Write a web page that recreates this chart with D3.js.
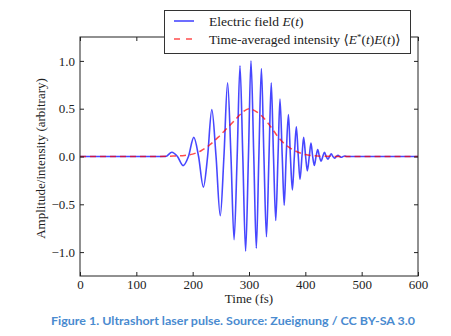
<!DOCTYPE html>
<html>
<head>
<meta charset="utf-8">
<script src="https://cdn.jsdelivr.net/npm/d3@7"></script>
<style>
  html, body { margin: 0; padding: 0; background: #fff; }
  svg { display: block; }
  text { font-family: "Liberation Serif", "DejaVu Serif", serif; }
  text.caption { font-family: Lato, "Open Sans", sans-serif; font-weight: bold; }
</style>
</head>
<body>
<svg id="chart" width="451" height="336"></svg>
<script>
// ---- data ----
// Electric field E(t): extrema and zero crossings (time in fs)
const fieldTimes = [0, 140, 152, 163, 173, 183, 192.5, 202, 210.5, 219, 226.5, 234, 241.5, 249, 255.5, 262, 268, 273.5, 279, 284, 289, 294, 299, 303.5, 308.5, 313, 317.5, 322, 326.5, 331, 335.5, 339.5, 343.5, 347.5, 351.5, 355, 359, 362.5, 366, 370, 373.5, 377, 380.5, 384, 387.5, 390.5, 394, 397, 400.5, 403.5, 407, 410, 413, 416, 419, 422, 425, 428, 431, 434, 437, 440, 443, 446, 449, 452, 455, 458, 461, 464, 467, 470, 474, 600];
const fieldValues = [0, 0, 0, 0.045, 0, -0.095, 0, 0.20, 0, -0.32, 0, 0.49, 0, -0.62, 0, 0.77, 0, -0.87, 0, 0.95, 0, -0.99, 0, 1.00, 0, -0.96, 0, 0.92, 0, -0.84, 0, 0.77, 0, -0.67, 0, 0.60, 0, -0.51, 0, 0.44, 0, -0.35, 0, 0.31, 0, -0.24, 0, 0.20, 0, -0.15, 0, 0.14, 0, -0.094, 0, 0.073, 0, -0.049, 0, 0.045, 0, -0.027, 0, 0.028, 0, -0.017, 0, 0.012, 0, -0.008, 0, 0.005, 0, 0];
// Time-averaged intensity <E*(t)E(t)>
const intensityTimes = [0, 140, 160, 180, 200, 215, 230, 245, 260, 275, 290, 300, 310, 325, 340, 355, 370, 385, 400, 420, 440, 460, 600];
const intensityValues = [0, 0, 0.003, 0.008, 0.025, 0.06, 0.12, 0.20, 0.29, 0.38, 0.47, 0.50, 0.48, 0.41, 0.30, 0.18, 0.10, 0.05, 0.02, 0.006, 0.002, 0, 0];
const xTicks = [0, 100, 200, 300, 400, 500, 600];
const yTicks = [-1.0, -0.5, 0.0, 0.5, 1.0];
const xDomain = [0, 600];
const yDomain = [-1.25, 1.25];
const xLabel = "Time (fs)";
const yLabel = "Amplitude/intensity (arbitrary)";
const caption = "Figure 1. Ultrashort laser pulse. Source: Zueignung / CC BY-SA 3.0";

// ---- layout ----
const svg = d3.select("#chart");
const padL = 80, padR = 418, padT = 37, padB = 276;
const W = padR - padL, H = padB - padT;
const FS = 13;

const x = d3.scaleLinear().domain(xDomain).range([0, W]);
const y = d3.scaleLinear().domain(yDomain).range([H, 0]);

const g = svg.append("g").attr("transform", `translate(${padL},${padT})`);

const fmtY = v => (v < 0 ? "\u2212" : "") + Math.abs(v).toFixed(1);

// lines
const fieldData = fieldTimes.map((t, i) => [t, fieldValues[i]]);
const intData = intensityTimes.map((t, i) => [t, intensityValues[i]]);

const lineGen = d3.line().x(d => x(d[0])).y(d => y(d[1])).curve(d3.curveMonotoneX);

g.append("path").datum(fieldData)
  .attr("d", lineGen)
  .attr("fill", "none")
  .attr("stroke", "#0000ff")
  .attr("stroke-opacity", 0.72)
  .attr("stroke-width", 1.6)
  .attr("stroke-linejoin", "round");

g.append("path").datum(intData)
  .attr("d", lineGen)
  .attr("fill", "none")
  .attr("stroke", "#ff0000")
  .attr("stroke-opacity", 0.7)
  .attr("stroke-width", 1.5)
  .attr("stroke-dasharray", "6,4");

// axes (inward ticks on all four sides)
const axisStyle = sel => {
  sel.select(".domain").remove();
  sel.selectAll(".tick line").attr("stroke", "#222");
  sel.selectAll("text").attr("font-size", FS).attr("fill", "#222");
};

g.append("g").attr("transform", `translate(0,${H})`)
  .call(d3.axisBottom(x).tickValues(xTicks).tickSize(-4).tickPadding(4).tickFormat(d3.format("d")))
  .call(axisStyle);
g.append("g")
  .call(d3.axisTop(x).tickValues(xTicks).tickSize(-4).tickFormat(""))
  .call(axisStyle);
g.append("g")
  .call(d3.axisLeft(y).tickValues(yTicks).tickSize(-4).tickPadding(5).tickFormat(fmtY))
  .call(axisStyle);
g.append("g").attr("transform", `translate(${W},0)`)
  .call(d3.axisRight(y).tickValues(yTicks).tickSize(-4).tickFormat(""))
  .call(axisStyle);

// frame
g.append("rect").attr("x", 0).attr("y", 0).attr("width", W).attr("height", H)
  .attr("fill", "none").attr("stroke", "#222").attr("stroke-width", 1);

// axis labels
svg.append("text").attr("x", padL + W / 2).attr("y", 303)
  .attr("text-anchor", "middle").attr("font-size", FS).attr("fill", "#222").text(xLabel);
svg.append("text")
  .attr("transform", `translate(45,${padT + H / 2 + 2}) rotate(-90)`)
  .attr("text-anchor", "middle").attr("font-size", FS).attr("fill", "#222").text(yLabel);

// legend
const lg = svg.append("g");
lg.append("rect").attr("x", 164.5).attr("y", 10.5).attr("width", 246).attr("height", 43)
  .attr("fill", "#fff").attr("stroke", "#333").attr("stroke-width", 1);
lg.append("line").attr("x1", 174).attr("x2", 194).attr("y1", 21).attr("y2", 21)
  .attr("stroke", "#0000ff").attr("stroke-opacity", 0.72).attr("stroke-width", 1.6);
lg.append("line").attr("x1", 174).attr("x2", 194).attr("y1", 39).attr("y2", 39)
  .attr("stroke", "#ff0000").attr("stroke-opacity", 0.7).attr("stroke-width", 1.5)
  .attr("stroke-dasharray", "6,6");

const LFS = 13.5;
const t1 = lg.append("text").attr("x", 209).attr("y", 25.5).attr("font-size", LFS).attr("fill", "#222");
t1.append("tspan").text("Electric field ");
t1.append("tspan").attr("font-style", "italic").text("E");
t1.append("tspan").text("(");
t1.append("tspan").attr("font-style", "italic").text("t");
t1.append("tspan").text(")");

const t2 = lg.append("text").attr("x", 209).attr("y", 43.5).attr("font-size", LFS).attr("fill", "#222");
t2.append("tspan").text("Time-averaged intensity \u27E8");
t2.append("tspan").attr("font-style", "italic").text("E");
t2.append("tspan").attr("font-size", 9).attr("dy", -4).text("*");
t2.append("tspan").attr("dy", 4).text("(");
t2.append("tspan").attr("font-style", "italic").text("t");
t2.append("tspan").text(")");
t2.append("tspan").attr("font-style", "italic").text("E");
t2.append("tspan").text("(");
t2.append("tspan").attr("font-style", "italic").text("t");
t2.append("tspan").text(")\u27E9");

// caption
svg.append("text").attr("class", "caption").attr("x", 51).attr("y", 325)
  .attr("font-size", 12)
  .attr("fill", "#4a8bd0")
  .attr("textLength", 364).attr("lengthAdjust", "spacingAndGlyphs")
  .text(caption);
</script>
</body>
</html>
